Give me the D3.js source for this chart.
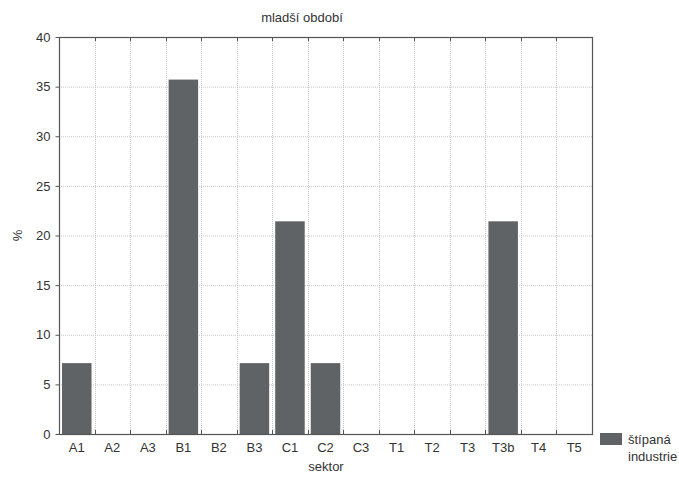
<!DOCTYPE html>
<html>
<head>
<meta charset="utf-8">
<script src="https://cdn.jsdelivr.net/npm/d3@7"></script>
<style>
body { margin: 0; background: #fff; }
svg text { font-family: "Liberation Sans", Arial, sans-serif; fill: #333; }
</style>
</head>
<body>
<div id="chart"></div>
<script>
// data
var sektory = ["A1", "A2", "A3", "B1", "B2", "B3", "C1", "C2", "C3", "T1", "T2", "T3", "T3b", "T4", "T5"];
var hodnoty = [7.14, 0, 0, 35.71, 0, 7.14, 21.43, 7.14, 0, 0, 0, 0, 21.43, 0, 0];
var yTicks = [0, 5, 10, 15, 20, 25, 30, 35, 40];

var W = 679, H = 478;
var margin = { top: 37, right: 87, bottom: 44, left: 59 },
    width = W - margin.left - margin.right,
    height = H - margin.top - margin.bottom;

var svg = d3.select("#chart").append("svg")
    .attr("width", W)
    .attr("height", H);

var g = svg.append("g")
    .attr("transform", "translate(" + margin.left + "," + margin.top + ")");

var x = d3.scaleBand().domain(sektory).range([0, width]).paddingInner(0).paddingOuter(0);
var y = d3.scaleLinear().domain([0, 40]).range([height, 0]);

// grid
g.selectAll(".hgrid").data(yTicks.slice(1, -1)).enter().append("line")
    .attr("x1", 0).attr("x2", width)
    .attr("y1", function(d) { return y(d) + 0.5; })
    .attr("y2", function(d) { return y(d) + 0.5; })
    .attr("stroke", "#c8c8c8").attr("stroke-dasharray", "1,1");

var bounds = sektory.slice(1).map(function(s) { return Math.round(x(s)) + 0.5; });
g.selectAll(".vgrid").data(bounds).enter().append("line")
    .attr("x1", function(d) { return d; }).attr("x2", function(d) { return d; })
    .attr("y1", 0).attr("y2", height)
    .attr("stroke", "#c8c8c8").attr("stroke-dasharray", "1,1");

// bars
var barW = x.bandwidth() * 0.83;
g.selectAll(".bar").data(hodnoty.map(function(v, i) { return { s: sektory[i], v: v }; }).filter(function(d) { return d.v > 0; }))
    .enter().append("rect")
    .attr("x", function(d) { return x(d.s) + (x.bandwidth() - barW) / 2; })
    .attr("y", function(d) { return y(d.v); })
    .attr("width", barW)
    .attr("height", function(d) { return height - y(d.v); })
    .attr("fill", "#5f6366");

// inner ticks at category boundaries (top and bottom)
g.selectAll(".tt").data(bounds).enter().append("line")
    .attr("x1", function(d) { return d; }).attr("x2", function(d) { return d; })
    .attr("y1", 0).attr("y2", 4).attr("stroke", "#555");
g.selectAll(".bt").data(bounds).enter().append("line")
    .attr("x1", function(d) { return d; }).attr("x2", function(d) { return d; })
    .attr("y1", height).attr("y2", height - 4).attr("stroke", "#555");

// frame
g.append("rect")
    .attr("x", 0.5).attr("y", 0.5)
    .attr("width", width).attr("height", height)
    .attr("fill", "none").attr("stroke", "#555").attr("stroke-width", 1.2);

// y axis
var yAxis = d3.axisLeft(y).tickValues(yTicks).tickSize(4).tickPadding(5);
var ya = g.append("g").attr("transform", "translate(0.5,0)").call(yAxis);
ya.select(".domain").remove();
ya.selectAll(".tick line").attr("stroke", "#555");
ya.selectAll(".tick text").style("font-size", "13px").style("fill", "#333");

// x axis labels
var xAxis = d3.axisBottom(x).tickSize(0).tickPadding(9);
var xa = g.append("g").attr("transform", "translate(0," + height + ")").call(xAxis);
xa.select(".domain").remove();
xa.selectAll(".tick text").style("font-size", "13px").style("fill", "#333");

// titles
svg.append("text").attr("x", 302).attr("y", 22).attr("text-anchor", "middle")
    .style("font-size", "13px").text("mladší období");
svg.append("text").attr("x", 326).attr("y", 471).attr("text-anchor", "middle")
    .style("font-size", "13px").text("sektor");
svg.append("text").attr("transform", "translate(22," + (margin.top + height / 2) + ") rotate(-90)")
    .attr("text-anchor", "middle").style("font-size", "13px").text("%");

// legend
svg.append("rect").attr("x", 600).attr("y", 433).attr("width", 22).attr("height", 12).attr("fill", "#5f6366");
svg.append("text").attr("x", 628).attr("y", 444).style("font-size", "13px").text("štípaná");
svg.append("text").attr("x", 628).attr("y", 461).style("font-size", "13px").text("industrie");
</script>
</body>
</html>
